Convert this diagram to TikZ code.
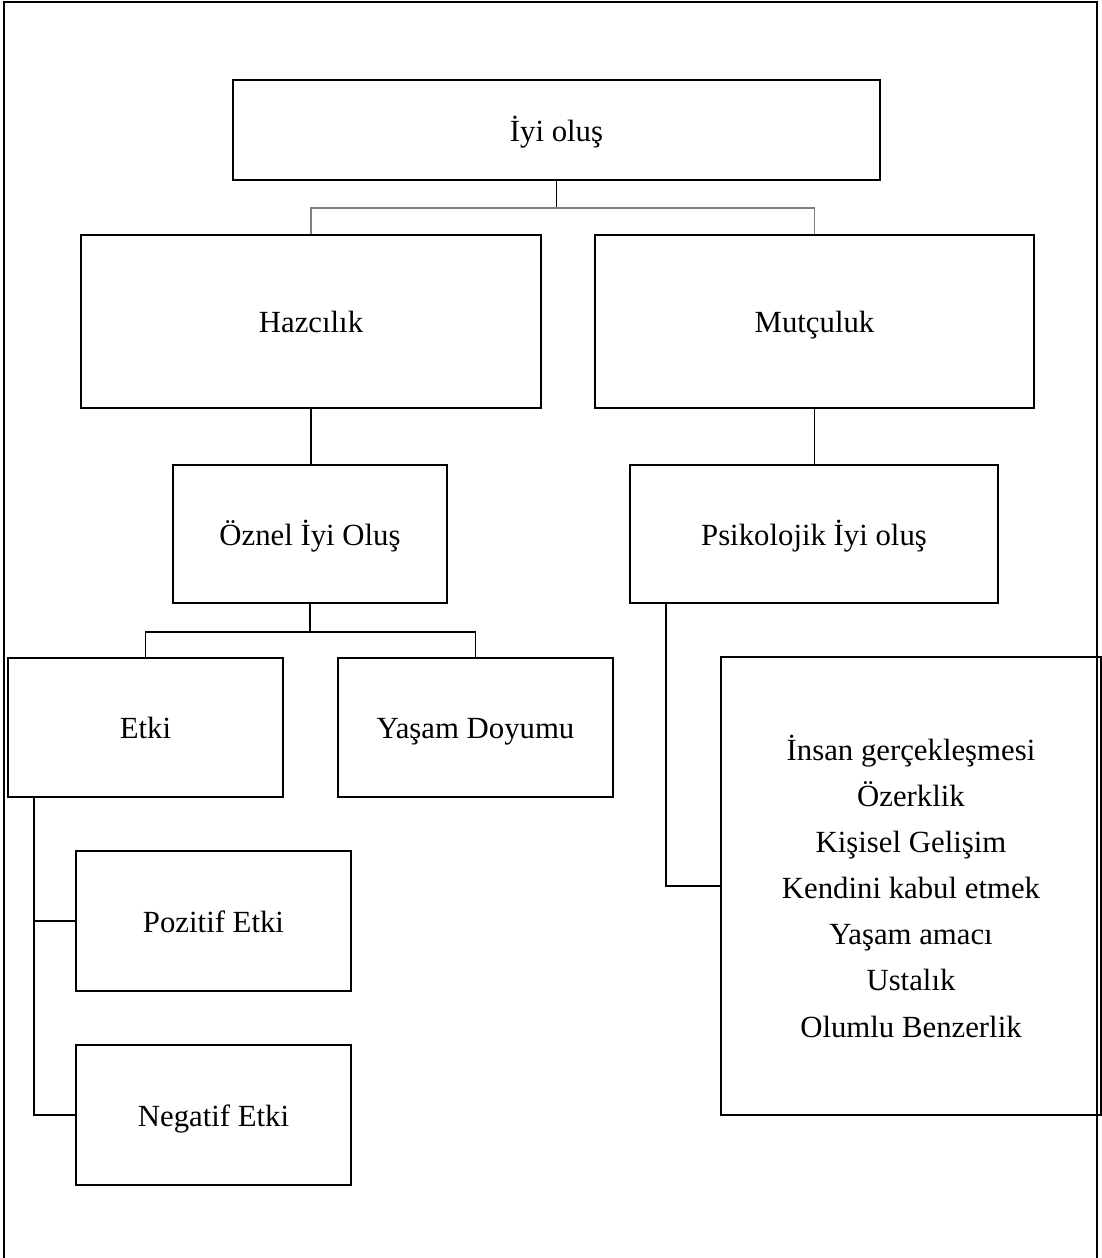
\documentclass[tikz,border=0pt]{standalone}
\usepackage{fontspec}
\setmainfont{Liberation Serif}
\usepackage{tikz}
\usetikzlibrary{positioning,calc}

\begin{document}
\begin{tikzpicture}[x=0.39pt, y=-0.39pt,
    box/.style={draw, line width=0.8pt, inner sep=0pt, align=center,
      font=\fontsize{12}{18}\selectfont},
    one/.style={box, text height=8.6pt, text depth=0pt},
    wh/.style 2 args={minimum width=#1*0.39pt, minimum height=#2*0.39pt},
    conn/.style={line width=0.45pt}]
  \useasboundingbox (0,0) rectangle (1101,1258);
  \draw [line width=0.6pt] (4,1258) -- (4,2) -- (1097,2) -- (1097,1258);

  \node [one, wh={647}{100}] (iyi) at (556.5,130) {İyi oluş};
  \node [one, wh={460}{173}] (haz) at (311,321.5) {Hazcılık};
  \node [one, wh={439}{173}] (mut) at (814.5,321.5) {Mutçuluk};
  \node [one, wh={274}{138}] (oznel) at (310,534) {Öznel İyi Oluş};
  \node [one, wh={368}{138}] (psik) at (814,534) {Psikolojik İyi oluş};
  \node [one, wh={275}{139}] (etki) at (145.5,727.5) {Etki};
  \node [one, wh={275}{139}] (doyum) at (475.5,727.5) {Yaşam Doyumu};
  \node [one, wh={275}{140}] (poz) at (213.5,921) {Pozitif Etki};
  \node [one, wh={275}{140}] (neg) at (213.5,1115) {Negatif Etki};
  \node [box, wh={380}{458}] (boyut) at (911,886) {İnsan gerçekleşmesi\\Özerklik\\Kişisel Gelişim\\Kendini kabul etmek\\Yaşam amacı\\Ustalık\\Olumlu Benzerlik};

  % baglantilar
  \coordinate (j1) at ($(iyi.south)+(0,27)$);
  \draw [conn] (iyi.south) -- (j1);
  \draw [conn, gray] (haz.north) |- (j1) -| (mut.north);
  \draw [conn] (haz.south) -- (haz.south |- oznel.north);
  \draw [conn] (mut.south) -- (mut.south |- psik.north);
  \coordinate (j2) at ($(oznel.south)+(0,28)$);
  \draw [conn] (oznel.south) -- (j2);
  \draw [conn] (etki.north) |- (j2) -| (doyum.north);
  \coordinate (e0) at ($(etki.south west)+(27,0)$);
  \draw [conn] (e0) |- (neg.west);
  \draw [conn] (e0) |- (poz.west);
  \coordinate (p0) at ($(psik.south west)+(37,0)$);
  \draw [conn] (p0) |- (boyut.west);
\end{tikzpicture}
\end{document}
